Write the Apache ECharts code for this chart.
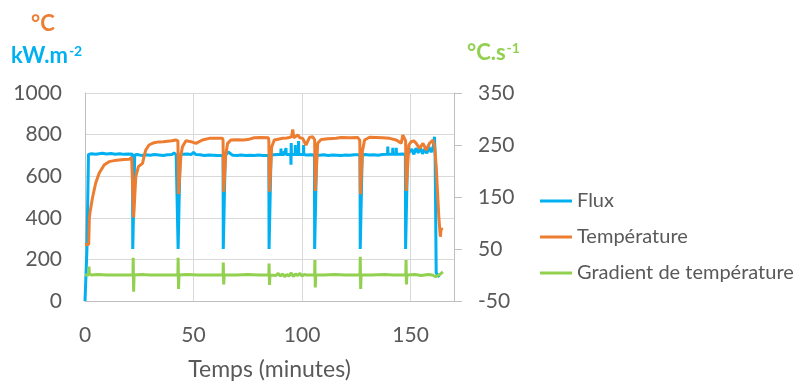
<!DOCTYPE html>
<html><head><meta charset="utf-8">
<script src="https://cdn.jsdelivr.net/npm/echarts@6/dist/echarts.min.js"></script>
<style>html,body{margin:0;padding:0;background:#fff}#c{width:797px;height:382px}</style>
</head><body><div id="c"></div>
<script>
const xTicks = [0, 50, 100, 150];
const leftTicks = [0, 200, 400, 600, 800, 1000];
const rightTicks = [-50, 50, 150, 250, 350];
const seriesNames = ['Flux', 'Température', 'Gradient de température'];

const fluxTime = [0,0.9,1.5,1.6,3,5,8,10,12,14,16,18,20,21.9,22.0,22.8,22.9,24,26,28,30,32,34,36,38,40,41,42,42.8,42.9,43.7,43.8,45,47,49,50,51,53,55,57,59,61,63.6,63.7,64.5,64.6,66,68,70,72,74,76,78,80,82,84.7,84.8,85.6,85.7,87,89,90.2,90.3,90.4,91.7,91.8,91.9,92.5,92.6,92.7,94.8,94.9,95.0,95.1,96.8,96.9,97.0,98.3,98.4,98.5,100.6,100.7,100.8,102,104,105.7,105.8,106.6,106.7,108,110,112,114,116,118,120,122,124,126.7,126.8,127.6,127.7,129,131,133,135,137,139.4,139.5,139.6,141.7,141.8,141.9,143.3,143.4,143.5,145,146,147.6,147.7,148.5,148.6,149.5,150.5,151.5,152.5,153.5,154.5,155.5,156.5,157.5,158.5,159.5,160.5,161.0,161.3,161.8,162.5,163.3];
const fluxValue = [0,250,258,705,708,706,710,707,709,706,708,705,707,705,250,250,702,704,700,703,701,704,702,700,703,704,712,703,702,250,250,703,705,707,704,715,704,703,700,702,701,700,700,250,250,700,716,701,700,702,700,701,700,702,700,700,250,250,702,703,704,704,733,704,704,721,704,704,735,704,704,655,760,704,704,750,704,704,769,704,704,750,704,702,703,702,250,250,702,701,703,700,702,701,700,702,701,703,703,250,250,703,704,702,703,701,704,705,742,705,705,736,705,705,736,705,706,707,706,250,250,705,710,730,705,735,712,738,708,730,710,740,715,745,790,700,135,125,115];

const tempTime = [0,1.7,2.0,2.3,3.4,4.9,6.5,8.8,11.1,13.5,15.7,18,20.3,21.5,22.0,22.4,23.4,24.6,26.5,27.2,28,29.5,30.3,31.8,34,36,38,40,41.8,42.5,42.8,43.1,44.2,44.9,46.5,48.8,51.1,54.1,57.2,60,63.4,63.6,63.9,64.8,65.7,67.2,70,73,75,78,81,84.5,84.7,85.0,86,87.2,89,91,93,94.1,95.2,95.7,96.2,97,98,99,100.3,101.8,103.4,104.9,105.8,106.1,107.2,108.8,112,115.7,118,122,125.7,126.6,126.9,127.8,128.8,131.1,134,137,140.3,143.4,145.7,146.4,147.2,147.7,148.0,149.2,150.3,151.5,152.6,154.1,155.7,157.2,158.7,160.3,161.1,161.8,162.6,163.0,163.7,164.1,164.6];
const tempValue = [272,272,400,425,494,566,614,654,670,675,678,680,681,690,688,402,598,646,662,694,726,750,758,761,765,766,768,770,774,780,770,514,702,742,771,766,758,774,782,783,782,770,525,700,758,774,775,774,776,785,786,785,770,525,740,774,778,782,784,786,790,825,785,790,798,785,782,750,786,790,775,529,758,777,780,782,786,785,786,772,513,720,774,787,786,785,782,774,758,798,782,770,529,750,766,770,758,734,758,726,758,774,742,646,486,405,309,350,341];

const gradTime = [0,1.7,1.85,2.0,3,6,10,15,20,22.1,22.2,22.4,22.6,26,30,35,40,42.8,42.9,43.1,43.3,47,52,57,63.6,63.7,63.9,64.1,70,75,80,84.7,84.8,85.0,85.2,88,89,90,91,92,93,94,95,96,97,98,99,100,101,102,105.8,105.9,106.1,106.3,110,115,120,126.7,126.8,127.0,127.2,132,138,142,147.8,147.9,148.1,148.3,152,155,158,160,161.5,161.9,162.5,163.5,164.2,164.9];
const gradValue = [0,0,16,2,0,1,0,0,0,0,33,-32,0,1,0,0,0,0,33,-27,0,1,0,0,0,24,-18,0,0,1,0,0,22,-19,0,-1,3,-2,2,-3,1,-2,4,-3,2,-1,3,-2,1,0,0,29,-24,0,0,1,0,0,35,-27,0,0,1,0,0,29,-18,0,1,-1,1,0,-3,-6,-1,1,2,6];

function pairs(t, v) { return t.map((x, i) => [x, v[i]]); }

const FONT = 'Lato';
const GRAY = '#595959';
const chart = echarts.init(document.getElementById('c'), null, {renderer: 'canvas'});
chart.setOption({
  animation: false,
  backgroundColor: '#fff',
  textStyle: {fontFamily: FONT},
  grid: {left: 85, right: 343, top: 93, bottom: 81, containLabel: false, outerBoundsMode: 'none'},
  graphic: [
    {type: 'text', left: 31, top: 13, style: {text: '°C', fill: '#ED7D31', font: 'bold 22px ' + FONT}},
    {type: 'text', left: 11, top: 44, style: {
      text: '{b|kW.m}{s|-2}', fill: '#00B0F0',
      rich: {b: {fontFamily: FONT, fontWeight: 'bold', fontSize: 22, fill: '#00B0F0', color: '#00B0F0'},
             s: {fontFamily: FONT, fontWeight: 'bold', fontSize: 14, verticalAlign: 'top', fill: '#00B0F0', color: '#00B0F0', padding: [0,0,10,1]}}}},
    {type: 'text', left: 467, top: 41, style: {
      text: '{b|°C.s}{s|-1}', fill: '#92D050',
      rich: {b: {fontFamily: FONT, fontWeight: 'bold', fontSize: 22, fill: '#92D050', color: '#92D050'},
             s: {fontFamily: FONT, fontWeight: 'bold', fontSize: 14, verticalAlign: 'top', fill: '#92D050', color: '#92D050', padding: [0,0,10,1]}}}}
  ],
  legend: {
    orient: 'vertical', left: 540, top: 190, itemWidth: 32, itemHeight: 3, itemGap: 14, padding: 0,
    icon: 'rect', data: seriesNames,
    textStyle: {color: GRAY, fontSize: 20, fontFamily: FONT, lineHeight: 22}
  },
  xAxis: {
    type: 'value', min: 0, max: 170, interval: 50,
    name: 'Temps (minutes)', nameLocation: 'middle', nameGap: 57,
    nameTextStyle: {color: GRAY, fontSize: 23, fontFamily: FONT},
    axisLine: {show: true, lineStyle: {color: '#BFBFBF', width: 1}},
    axisTick: {show: false},
    axisLabel: {color: GRAY, fontSize: 21, fontFamily: FONT, margin: 24,
      formatter: v => xTicks.includes(v) ? String(v) : ''},
    splitLine: {show: true, lineStyle: {color: '#D9D9D9', width: 1}}
  },
  yAxis: [
    {type: 'value', min: 0, max: 1000, interval: 200, position: 'left',
     axisLine: {show: true, lineStyle: {color: '#BFBFBF'}}, axisTick: {show: false},
     axisLabel: {color: GRAY, fontSize: 21, fontFamily: FONT, margin: 23,
       formatter: v => leftTicks.includes(v) ? String(v) : ''},
     splitLine: {show: true, lineStyle: {color: '#D9D9D9', width: 1}}},
    {type: 'value', min: -50, max: 350, interval: 100, position: 'right',
     axisLine: {show: true, lineStyle: {color: '#BFBFBF'}},
     axisTick: {show: true, inside: false, length: 8, lineStyle: {color: '#BFBFBF'}},
     axisLabel: {color: GRAY, fontSize: 21, fontFamily: FONT, margin: 24,
       formatter: v => rightTicks.includes(v) ? String(v) : ''},
     splitLine: {show: false}}
  ],
  series: [
    {name: seriesNames[0], type: 'line', yAxisIndex: 0, showSymbol: false, symbol: 'none',
     data: pairs(fluxTime, fluxValue), lineStyle: {color: '#00B0F0', width: 3}, itemStyle: {color: '#00B0F0'}},
    {name: seriesNames[1], type: 'line', yAxisIndex: 0, showSymbol: false, symbol: 'none',
     data: pairs(tempTime, tempValue), lineStyle: {color: '#ED7D31', width: 3}, itemStyle: {color: '#ED7D31'}},
    {name: seriesNames[2], type: 'line', yAxisIndex: 1, showSymbol: false, symbol: 'none',
     data: pairs(gradTime, gradValue), lineStyle: {color: '#92D050', width: 3}, itemStyle: {color: '#92D050'}}
  ]
});
</script></body></html>
